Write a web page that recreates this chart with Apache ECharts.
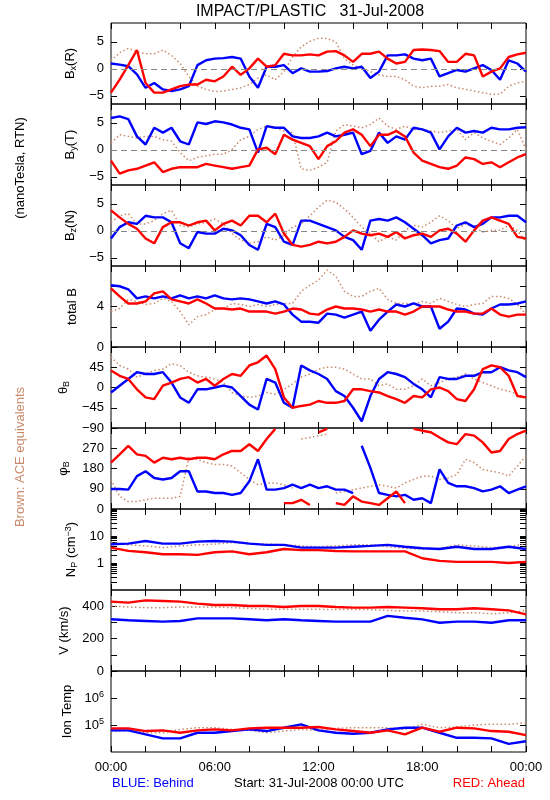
<!DOCTYPE html>
<html><head><meta charset="utf-8">
<script src="https://cdn.jsdelivr.net/npm/echarts@6/dist/echarts.min.js"></script>
<style>html,body{margin:0;padding:0;background:#fff}#c{width:550px;height:800px}</style>
</head><body><div id="c"></div>
<script>
// time grids (hours since 31-Jul-2008 00:00 UTC)
const T30 = [0,0.5,1,1.5,2,2.5,3,3.5,4,4.5,5,5.5,6,6.5,7,7.5,8,8.5,9,9.5,10,10.5,11,11.5,12,12.5,13,13.5,14,14.5,15,15.5,16,16.5,17,17.5,18,18.5,19,19.5,20,20.5,21,21.5,22,22.5,23,23.5,24];
const T60 = [0,1,2,3,4,5,6,7,8,9,10,11,12,13,14,15,16,17,18,19,20,21,22,23,24];
const tickLabels = ['00:00','06:00','12:00','18:00','00:00'];
const tickHours = [0,6,12,18,24];

// Bx (R), nT
const bxBlue = [1.0,0.8,0.5,-1.0,-3.5,-2.6,-3.8,-4.1,-3.8,-3.2,0.7,1.6,1.9,2.0,2.2,1.9,-1.4,-3.5,0.4,0.4,0.7,-0.8,0.1,-0.5,-0.5,-0.4,0.1,0.4,0.1,0.4,-1.7,-0.5,2.5,2.5,2.7,1.9,1.6,1.9,-1.4,-0.8,-0.2,-0.5,0.1,0.7,-0.2,-2.0,1.6,1.0,-0.5];
const bxRed = [-4.4,-2.0,0.7,3.5,-2.6,-4.4,-4.4,-3.8,-3.2,-2.9,-2.9,-2.0,-2.3,-1.4,0.4,-1.1,0.1,1.9,0.4,0.7,2.8,2.5,2.5,2.7,2.5,3.2,3.3,2.5,1.3,2.8,2.8,3.2,1.9,1.0,1.3,3.5,3.6,3.5,3.3,1.3,1.3,2.8,2.5,-1.4,-0.5,0.1,2.2,2.7,3.0];
const bxBrown = [1.5,3.0,3.8,3.2,2.8,2.8,3.5,2.5,1.0,-1.4,-3.2,-3.8,-4.2,-4.1,-3.8,-3.5,-2.9,-1.7,-1.1,-2.0,-0.5,2.2,4.1,5.1,5.7,5.6,5.0,1.9,0.7,0.1,-0.5,-1.1,-1.4,-1.4,-2.0,-3.2,-3.5,-3.2,-3.2,-2.9,-3.5,-3.8,-4.1,-4.4,-4.7,-4.7,-3.2,-2.6,-2.3];
// By (T)
const byBlue = [5.9,6.2,5.7,2.5,1.0,4.1,3.2,4.1,1.6,1.0,5.1,4.8,5.3,5.1,4.7,4.1,3.8,-0.5,4.4,4.1,4.1,2.5,2.2,2.2,2.5,3.2,2.5,2.8,3.2,-0.8,-0.2,3.2,1.3,2.5,1.9,4.1,3.8,3.2,0.1,2.5,4.1,3.2,3.5,3.2,4.1,3.8,3.8,4.1,4.2];
const byRed = [-2.0,-4.4,-3.8,-3.5,-2.9,-2.3,-4.1,-3.5,-3.2,-3.2,-3.2,-2.6,-2.9,-3.2,-3.5,-3.2,-2.9,0.1,0.4,-0.8,2.8,1.9,1.3,0.7,-1.7,0.7,1.6,3.2,3.8,2.8,0.7,2.8,2.8,3.5,2.5,-0.5,-2.0,-2.6,-3.2,-3.5,-2.9,-1.4,-1.7,-2.6,-2.3,-3.2,-2.3,-1.4,-0.8];
const byBrown = [1.3,2.8,2.5,2.2,2.5,2.5,1.9,1.6,-0.5,-2.0,-1.4,-1.1,-0.8,-0.8,0.1,1.9,2.5,3.8,4.4,4.1,3.5,3.2,-3.5,-3.8,-3.2,-2.3,3.5,4.7,4.4,4.1,4.7,5.9,4.4,3.8,4.4,3.8,3.8,3.5,3.2,3.5,3.8,1.9,3.2,2.2,1.6,1.0,2.2,3.8,0.1];
// Bz (N)
const bzBlue = [-1.4,0.7,1.6,1.3,2.8,2.5,2.5,1.6,-2.3,-3.2,-0.2,-0.5,-0.5,0.4,0.1,-0.8,-2.6,-3.5,1.3,0.7,-2.0,-2.6,1.9,1.9,1.3,0.7,0.1,-1.1,-1.7,-3.5,1.9,2.2,1.9,2.5,1.6,0.4,-0.8,-2.3,-1.7,-1.4,1.0,1.6,0.7,1.3,2.5,2.5,2.8,2.8,1.6];
const bzRed = [3.8,2.5,1.3,0.4,-1.4,-2.3,0.7,1.6,1.6,1.0,1.6,1.9,0.1,1.3,1.9,1.0,2.8,2.8,1.6,3.2,-0.5,-2.6,-2.9,-2.6,-2.0,-2.3,-2.0,-1.1,0.1,-0.5,-0.8,-0.5,-1.1,-0.2,-1.4,-0.8,-0.5,-1.1,0.1,0.4,-0.5,-2.0,0.1,1.9,2.5,1.9,1.3,-1.1,-1.4];
const bzBrown = [1.6,2.8,3.2,1.3,1.3,1.9,3.2,3.8,1.0,0.7,1.3,1.6,2.2,1.3,-0.5,-1.7,-2.3,-2.0,-1.1,-1.7,-0.8,0.7,1.3,2.8,4.4,5.7,5.3,4.1,2.5,0.7,-0.5,-2.0,-1.1,-1.7,0.1,1.0,0.7,1.6,2.8,1.9,0.4,1.3,0.7,-0.2,0.1,0.1,1.0,0.1,-2.0];
// total B
const btBlue = [6.1,6.0,5.7,4.8,5.0,4.8,5.0,4.8,5.1,4.8,5.0,4.8,5.1,4.8,4.7,4.8,4.7,4.5,4.3,4.5,4.2,3.2,2.5,2.5,2.4,3.3,3.2,2.9,3.2,3.5,1.6,2.7,3.5,4.2,4.0,4.3,4.0,4.0,1.8,2.5,3.8,3.7,3.3,3.2,3.8,4.2,4.2,4.3,4.5];
const btRed = [5.8,5.0,4.3,4.3,4.5,5.3,5.5,4.7,4.5,4.3,4.7,4.3,3.8,3.8,3.7,3.8,3.5,3.5,3.5,3.3,3.5,3.8,3.7,3.3,3.2,3.7,4.0,3.8,3.8,3.7,3.5,3.7,3.5,3.5,3.2,3.5,4.0,4.0,4.0,3.7,3.5,3.5,3.3,3.3,3.8,3.2,3.0,3.2,3.2];
const btBrown = [3.5,3.8,4.7,4.5,4.2,4.3,4.8,4.5,3.5,2.2,3.0,3.2,3.7,3.8,4.3,4.2,4.0,4.2,4.0,4.2,4.3,4.3,5.5,6.1,6.6,7.6,7.0,5.5,5.0,5.0,5.5,5.8,4.7,4.3,4.3,4.2,4.5,4.3,4.8,4.5,4.2,4.0,4.2,4.3,5.0,5.0,4.8,4.2,3.2];
// theta_B, degrees
const thBlue = [-11,4,19,34,30,30,34,11,-22,-34,-4,-4,0,4,0,-19,-38,-49,19,11,-34,-45,49,38,30,19,-8,-19,-45,-75,-19,19,34,30,23,8,-4,-22,23,19,19,26,26,34,34,45,38,34,23];
const thRed = [38,26,19,-4,-22,-26,4,11,19,23,11,19,4,19,30,26,49,56,71,41,-22,-45,-41,-38,-30,-34,-34,-30,-4,-4,-8,-11,-19,-26,-34,-19,-22,-4,0,-8,-26,-30,-4,41,49,45,26,-19,-22];
const thBrown = [68,49,41,23,30,38,41,53,49,34,26,23,19,11,-11,-19,-22,-19,-11,-15,-4,8,23,30,41,45,45,41,30,19,19,4,8,-4,-4,4,19,4,11,19,23,30,19,11,4,-4,-8,-15,-22];
// phi_B, degrees
const phBlue = [89,89,86,146,168,138,131,138,168,168,78,78,71,71,63,71,123,221,86,86,93,108,93,108,93,101,86,86,71,281,183,71,63,56,63,41,48,26,176,116,101,101,93,78,86,101,71,86,101];
const phRed = [206,243,281,243,236,206,228,221,228,221,228,228,221,243,258,258,288,258,311,356,26,26,41,18,341,356,26,18,56,33,26,18,48,78,26,356,348,341,318,296,288,333,326,296,251,258,311,333,348];
const phBrown = [131,56,33,33,41,48,48,48,56,228,221,206,198,198,191,161,131,108,116,116,108,93,311,318,326,333,71,78,86,93,101,108,101,93,116,131,146,146,131,138,153,221,206,176,168,161,146,191,236];
// proton density, cm^-3 (hourly)
const npBlue = [4.96,5.2,6.5,5.2,5.2,6.2,6.5,6.2,5.2,4.7,4.7,3.7,3.7,3.7,4.0,4.3,4.7,4.0,3.5,3.3,4.0,3.3,3.3,4.0,3.3];
const npRed = [3.7,2.8,2.5,2.1,2.1,2.0,2.5,2.7,2.1,2.5,3.3,3.0,3.0,2.8,2.7,2.7,2.7,2.7,1.5,1.2,1.1,1.1,1.1,1.0,1.1];
const npBrown = [5.7,4.7,4.3,3.7,4.3,4.7,5.0,5.7,5.2,5.0,4.7,4.3,4.0,4.3,4.7,4.7,4.0,3.5,3.3,3.5,4.7,4.3,3.7,4.0,5.2];
// bulk speed, km/s (hourly)
const vBlue = [319,313,309,305,309,325,325,325,319,313,319,313,309,305,305,305,340,329,319,298,305,305,298,313,313];
const vRed = [428,422,436,432,428,416,407,407,401,401,395,401,401,395,391,391,395,391,387,381,381,387,381,374,350];
const vBrown = [401,395,391,391,395,395,395,391,387,381,381,381,381,379,379,379,374,370,370,366,360,360,354,360,374];
// ion temperature, K (hourly)
const tBlue = [63000,63000,45000,32000,32000,51600,51600,59600,68800,59600,79400,106000,63000,51600,47300,51600,68800,79400,79400,51600,33500,33500,32000,20000,25100];
const tRed = [75000,75000,59600,63000,51600,63000,68800,63000,75000,79400,79400,79400,84000,68800,59600,51600,63000,45000,79400,56200,79400,75000,59600,56200,42200];
const tBrown = [56200,63000,51600,51600,68800,79400,79400,68800,63000,51600,59600,68800,63000,75000,79400,79400,79400,68800,106000,79400,84000,100000,106000,106000,122000];

const BLUE = '#0000ff', RED = '#ff0000', BROWN = '#c98a6c';
const FONT = 'Liberation Sans';
const nameRich = {
  n: {fontSize: 13, fontFamily: FONT, color: '#000'},
  s: {fontSize: 9, fontFamily: FONT, color: '#000', verticalAlign: 'bottom', padding: [6, 0, 0, 0]},
  p: {fontSize: 9, fontFamily: FONT, color: '#000', verticalAlign: 'top', padding: [0, 0, 6, 0]}
};

const panels = [
  {name: '{n|B}{s|x}{n|(R)}', min: -6.5, max: 8.5, ticks: [-5,0,5], labels: [-5,0,5], zero: true, t: T30, blue: bxBlue, red: bxRed, brown: bxBrown},
  {name: '{n|B}{s|y}{n|(T)}', min: -6.5, max: 8.5, ticks: [-5,0,5], labels: [-5,0,5], zero: true, t: T30, blue: byBlue, red: byRed, brown: byBrown},
  {name: '{n|B}{s|z}{n|(N)}', min: -6.5, max: 8.5, ticks: [-5,0,5], labels: [-5,0,5], zero: true, t: T30, blue: bzBlue, red: bzRed, brown: bzBrown},
  {name: '{n|total B}', min: 0, max: 8, ticks: [0,2,4,6], labels: [0,4], t: T30, blue: btBlue, red: btRed, brown: btBrown},
  {name: '{n|θ}{s|B}', min: -90, max: 90, ticks: [-90,-45,0,45], labels: [-90,-45,0,45], t: T30, blue: thBlue, red: thRed, brown: thBrown},
  {name: '{n|φ}{s|B}', min: 0, max: 360, ticks: [0,90,180,270], labels: [0,90,180,270], wrap: true, t: T30, blue: phBlue, red: phRed, brown: phBrown},
  {name: '{n|N}{s|P}{n| (cm}{p|−3}{n|)}', log: true, min: 0.1, max: 100, ticks: [0.2,0.3,0.4,0.5,0.6,0.7,0.8,0.9,1,2,3,4,5,6,7,8,9,10,20,30,40,50,60,70,80,90], labels: [1,10], t: T60, blue: npBlue, red: npRed, brown: npBrown},
  {name: '{n|V (km/s)}', min: 0, max: 500, ticks: [0,100,200,300,400], labels: [0,200,400], t: T60, blue: vBlue, red: vRed, brown: vBrown},
  {name: '{n|Ion Temp}', log: true, min: 1e4, max: 1e7, ticks: [1e5,1e6], labels: [1e5,1e6], exp: true, t: T60, blue: tBlue, red: tRed, brown: tBrown}
];

function pairs(t, v, wrap) {
  const out = [];
  for (let i = 0; i < t.length; i++) {
    if (wrap && i > 0 && Math.abs(v[i] - v[i-1]) > 180) out.push([(t[i] + t[i-1]) / 2, '-']);
    out.push([t[i], v[i]]);
  }
  return out;
}
function fmtY(v) {
  const s = String(Math.round(v * 1000) / 1000);
  return s.replace('-', '−');
}

const grids = [], xAxes = [], yAxes = [], series = [];
const H = 81;
panels.forEach((p, i) => {
  const top = 23 + H * i;
  grids.push({left: 111, width: 415, top: top, height: H, show: true, borderColor: '#000', borderWidth: 1, backgroundColor: 'transparent'});
  const last = i === panels.length - 1;
  ['bottom', 'top'].forEach(pos => {
    xAxes.push({
      type: 'value', gridIndex: i, position: pos, min: 0, max: 24, interval: 2,
      axisLine: {show: false, onZero: false}, splitLine: {show: false},
      axisTick: {show: true, inside: true, length: 6, lineStyle: {color: '#000', width: 1}},
      axisLabel: {
        show: last && pos === 'bottom', customValues: tickHours, margin: 9,
        showMinLabel: true, showMaxLabel: true,
        formatter: v => tickLabels[tickHours.indexOf(Math.round(v))] || '',
        fontFamily: FONT, fontSize: 13, color: '#000'
      }
    });
  });
  ['left', 'right'].forEach(pos => {
    const y = {
      type: p.log ? 'log' : 'value', gridIndex: i, position: pos, min: p.min, max: p.max,
      axisLine: {show: false, onZero: false}, splitLine: {show: false},
      axisTick: {show: true, inside: true, length: 6, customValues: p.ticks, lineStyle: {color: '#000', width: 1}},
      axisLabel: {
        show: pos === 'left', customValues: p.labels, margin: 7,
        fontFamily: FONT, fontSize: 13, color: '#000',
        formatter: p.exp ? (v => '10{sup|' + Math.round(Math.log10(v)) + '}') : fmtY,
        rich: {sup: {fontSize: 9, fontFamily: FONT, color: '#000', verticalAlign: 'top', padding: [0, 0, 7, 0]}}
      }
    };
    if (pos === 'left') {
      y.name = p.name; y.nameLocation = 'middle'; y.nameRotate = 90; y.nameGap = 32;
      y.nameTextStyle = {rich: nameRich, fontFamily: FONT, fontSize: 13, color: '#000'};
    }
    yAxes.push(y);
  });
  const xi = 2 * i, yi = 2 * i;
  const brown = {
    type: 'line', xAxisIndex: xi, yAxisIndex: yi, data: pairs(p.t, p.brown, p.wrap),
    showSymbol: false, connectNulls: false, z: 2, animation: false,
    lineStyle: {color: BROWN, width: 1.5, type: [1.5, 2.5]}
  };
  if (p.zero) {
    brown.markLine = {silent: true, symbol: 'none', label: {show: false}, animation: false,
      lineStyle: {color: '#888', width: 1, type: [6, 4]}, data: [{yAxis: 0}]};
  }
  series.push(brown);
  series.push({type: 'line', xAxisIndex: xi, yAxisIndex: yi, data: pairs(p.t, p.blue, p.wrap),
    showSymbol: false, connectNulls: false, z: 3, animation: false, lineStyle: {color: BLUE, width: 2.4}});
  series.push({type: 'line', xAxisIndex: xi, yAxisIndex: yi, data: pairs(p.t, p.red, p.wrap),
    showSymbol: false, connectNulls: false, z: 4, animation: false, lineStyle: {color: RED, width: 2.4}});
});

const chart = echarts.init(document.getElementById('c'));
chart.setOption({
  backgroundColor: '#fff',
  animation: false,
  grid: grids, xAxis: xAxes, yAxis: yAxes, series: series,
  graphic: [
    {type: 'text', x: 310, y: 12, style: {text: 'IMPACT/PLASTIC   31-Jul-2008', font: '16px "Liberation Sans"', fill: '#000', textAlign: 'center', textVerticalAlign: 'middle'}},
    {type: 'text', x: 20, y: 168, rotation: Math.PI / 2, style: {text: '(nanoTesla, RTN)', font: '13px "Liberation Sans"', fill: '#000', textAlign: 'center', textVerticalAlign: 'middle'}},
    {type: 'text', x: 20, y: 457, rotation: Math.PI / 2, style: {text: 'Brown: ACE equivalents', font: '13px "Liberation Sans"', fill: BROWN, textAlign: 'center', textVerticalAlign: 'middle'}},
    {type: 'text', x: 112, y: 783, style: {text: 'BLUE: Behind', font: '13px "Liberation Sans"', fill: BLUE, textAlign: 'left', textVerticalAlign: 'middle'}},
    {type: 'text', x: 319, y: 783, style: {text: 'Start: 31-Jul-2008 00:00 UTC', font: '13px "Liberation Sans"', fill: '#000', textAlign: 'center', textVerticalAlign: 'middle'}},
    {type: 'text', x: 525, y: 783, style: {text: 'RED: Ahead', font: '13px "Liberation Sans"', fill: RED, textAlign: 'right', textVerticalAlign: 'middle'}}
  ]
});
</script></body></html>
